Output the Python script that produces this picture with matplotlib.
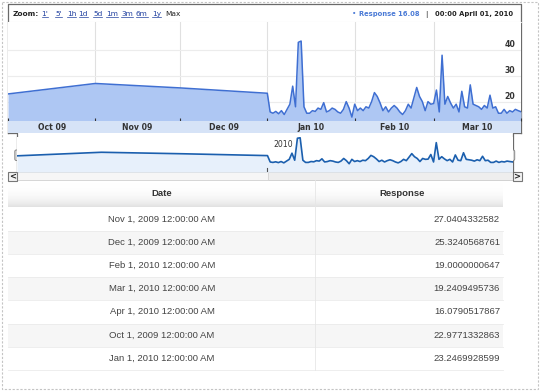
import numpy as np
import pandas as pd
import matplotlib
matplotlib.use("Agg")
import matplotlib.pyplot as plt
import matplotlib.dates as mdates
from matplotlib.patches import Rectangle, FancyBboxPatch
from matplotlib.colors import LinearSegmentedColormap

# ---------------- data ----------------
monthly_dates = ["2009-10-01", "2009-11-01", "2009-12-01", "2010-01-01"]
monthly_values = [22.9771332863, 27.0404332582, 25.3240568761, 23.2469928599]

daily_start = "2010-01-02"
daily_values = [
    16.0, 15.5, 16.2, 15.3, 16.5, 15.0, 17.0, 19.0, 26.0, 18.0,
    43.0, 43.5, 18.0, 15.5, 15.5, 16.5, 16.2, 17.5, 17.0, 19.6,
    16.0, 16.5, 17.5, 17.0, 16.0, 15.5, 17.0, 20.0, 17.5, 14.0,
    19.0000000647, 16.5, 17.5, 16.5, 18.0, 17.5, 20.0, 23.5, 22.0, 19.5,
    16.5, 18.0, 16.0, 17.5, 18.5, 17.5, 16.0, 15.0, 16.5, 19.0,
    17.5, 21.5, 25.5, 22.0, 20.0, 16.5, 20.0, 19.0, 19.2409495736, 24.5,
    16.0, 38.0, 19.0, 22.0, 19.5, 17.5, 19.0, 16.0, 24.0, 18.0,
    17.5, 26.5, 19.0, 18.5, 18.0, 17.0, 18.5, 17.5, 22.5, 17.5,
    18.0, 15.5, 15.5, 17.0, 15.5, 16.5, 16.0, 17.0, 16.5, 16.0790517867,
]

month_labels = ["Oct 09", "Nov 09", "Dec 09", "Jan 10", "Feb 10", "Mar 10"]
month_starts = ["2009-10-01", "2009-11-01", "2009-12-01", "2010-01-01",
                "2010-02-01", "2010-03-01", "2010-04-01"]
y_ticks = [20, 30, 40]

zoom_links = ["1'", "5'", "1h", "1d", "5d", "1m", "3m", "6m", "1y"]
legend_series = "Response"
legend_value = "16.08"
legend_date = "00:00 April 01, 2010"
nav_year_label = "2010"

table_header = ["Date", "Response"]
table_dates = ["Nov 1, 2009 12:00:00 AM", "Dec 1, 2009 12:00:00 AM",
               "Feb 1, 2010 12:00:00 AM", "Mar 1, 2010 12:00:00 AM",
               "Apr 1, 2010 12:00:00 AM", "Oct 1, 2009 12:00:00 AM",
               "Jan 1, 2010 12:00:00 AM"]
table_values = ["27.0404332582", "25.3240568761", "19.0000000647",
                "19.2409495736", "16.0790517867", "22.9771332863",
                "23.2469928599"]

# ---------------- build series ----------------
dates = list(pd.to_datetime(monthly_dates)) + list(
    pd.date_range(daily_start, periods=len(daily_values), freq="D"))
values = monthly_values + daily_values
x = mdates.date2num(dates)
xmin = mdates.date2num(pd.Timestamp(month_starts[0]))
xmax = mdates.date2num(pd.Timestamp(month_starts[-1]))

W, H = 540, 391
fig = plt.figure(figsize=(W / 100, H / 100), dpi=100)
fig.patch.set_facecolor("white")


def px_axes(x0, y0, x1, y1, **kw):
    return fig.add_axes([x0 / W, 1 - y1 / H, (x1 - x0) / W, (y1 - y0) / H], **kw)


bg = px_axes(0, 0, W, H)
bg.set_xlim(0, W)
bg.set_ylim(H, 0)
bg.axis("off")

# outer dashed border
bg.add_patch(Rectangle((1.5, 1.5), W - 3.5, H - 3.5, fill=False,
                       ec="#c4c4c4", lw=0.8, ls=(0, (2, 1.5))))

FR = "#6a6a6a"
bg.plot([8, 8, 521, 521], [133.3, 4, 4, 133.3], color=FR, lw=0.9)
bg.plot([8, 17, 17], [133.3, 133.3, 172], color=FR, lw=0.9)
bg.plot([521, 512.5, 512.5], [133.3, 133.3, 172], color=FR, lw=0.9)
bg.plot([8, 521], [21.7, 21.7], color="#dddddd", lw=0.8)

# zoom bar text
ZFS = 5.3
bg.text(12.5, 14, "Zoom:", fontsize=ZFS, fontweight="bold", color="#222222",
        va="center", ha="left")
link_x = [41.5, 55, 67, 78.5, 93, 106, 121, 136, 152]
link_texts = []
for lx, lab in zip(link_x, zoom_links):
    t = bg.text(lx, 14, lab, fontsize=ZFS, color="#1f3f9f", va="center", ha="left")
    link_texts.append(t)
bg.text(165, 14, "Max", fontsize=ZFS, color="#222222", va="center", ha="left")

bg.text(352, 13.6, "\u2022", fontsize=ZFS, color="#4a7ad6", va="center", ha="left")
bg.text(359, 14, f"{legend_series} {legend_value}", fontsize=4.9,
        fontweight="bold", color="#4a7ad6", va="center", ha="left")
bg.text(426.5, 14, "|", fontsize=5.3, color="#222222", va="center", ha="center")
bg.text(513, 14, legend_date, fontsize=4.9, fontweight="bold",
        color="#222222", va="center", ha="right")

# ---------------- main chart ----------------
YB, YT = 12.6, 51.0
ax = px_axes(8, 21.7, 521, 120.7)
ax.set_xlim(xmin, xmax)
ax.set_ylim(YB, YT)
ax.set_facecolor("white")
for s in ax.spines.values():
    s.set_visible(False)
ms = mdates.date2num(pd.to_datetime(month_starts))
for m in ms[1:-1]:
    ax.axvline(m, color="#e0e0e0", lw=0.8, zorder=0)
for v in y_ticks:
    ax.axhline(v, color="#ececec", lw=0.8, zorder=0)
ax.fill_between(x, values, YB, color="#aec7f3", lw=0, zorder=1)
ax.plot(x, values, color="#3f6fd2", lw=1.1, zorder=2)
ax.set_xticks(ms)
ax.set_xticklabels([])
ax.tick_params(axis="x", direction="in", length=2.5, width=0.8, color="#333333")
ax.set_yticks([])
for v in y_ticks:
    ax.annotate(str(v), xy=(0.978, v), xycoords=("axes fraction", "data"),
                xytext=(0, 4.0), textcoords="offset points", ha="center",
                va="center", fontsize=5.6, fontweight="bold", color="#333333")

# label band
band = px_axes(8, 120.7, 521, 133.3)
band.set_xlim(xmin, xmax)
band.set_ylim(0, 1)
band.set_facecolor("#d6e3f7")
for s in band.spines.values():
    s.set_visible(False)
band.set_xticks([])
band.set_yticks([])
for i, lab in enumerate(month_labels):
    mid = (ms[i] + ms[i + 1]) / 2
    band.text(mid, 0.5, lab, ha="center", va="center", fontsize=5.6,
              fontweight="bold", color="#333333")

# ---------------- navigator ----------------
NB, NT = 4.6, 44.4
nav = px_axes(17, 137, 512.5, 172)
nav.set_xlim(xmin, xmax)
nav.set_ylim(NB, NT)
for s in nav.spines.values():
    s.set_visible(False)
nav.set_xticks([])
nav.set_yticks([])
nav.fill_between(x, values, NB, color="#e7f0fb", lw=0)
nav.plot(x, values, color="#1b5fae", lw=1.2)
jan = mdates.date2num(pd.Timestamp("2010-01-01"))
nav.axvline(jan, ymin=0, ymax=0.12, color="#555555", lw=0.8)
nav.text(jan + 2, 36.0, nav_year_label, fontsize=5.6, color="#333333",
         ha="left", va="center")

for hx in (17, 512.5):
    bg.add_patch(FancyBboxPatch((hx - 2.2, 150), 4.4, 10.5,
                                boxstyle="round,pad=0,rounding_size=1.5",
                                fc="#d8d8d8", ec="#8a8a8a", lw=0.7, zorder=5))

# scrollbar
bg.add_patch(Rectangle((17, 172), 495.5, 7.5, fc="#eeeeee", ec="#cccccc", lw=0.6))
bg.add_patch(Rectangle((17, 172), 251, 7.5, fc="#f6f6f6", ec="#d4d4d4", lw=0.6))
bg.add_patch(Rectangle((8, 172), 9, 8.5, fc="#f3f3f3", ec="#777777", lw=0.8))
bg.add_patch(Rectangle((512.5, 172), 9, 8.5, fc="#f3f3f3", ec="#777777", lw=0.8))
bg.text(12.5, 176.5, "<", fontsize=6, fontweight="bold", ha="center", va="center",
        color="#222222")
bg.text(517, 176.5, ">", fontsize=6, fontweight="bold", ha="center", va="center",
        color="#222222")

# ---------------- table ----------------
TL, TR, TC = 8, 503, 315
HT, HB = 180, 207.5
TBOT = 370
row_h = (TBOT - HB) / len(table_dates)
grad = np.linspace(0, 1, 60) ** 3
cmap = LinearSegmentedColormap.from_list("hdr", ["#ffffff", "#e2e2e2"])
bg.imshow(grad[:, None], extent=[TL, TR, HB, HT], cmap=cmap, aspect="auto",
          origin="upper", zorder=0)
bg.set_xlim(0, W)
bg.set_ylim(H, 0)
tfont = ["Liberation Sans", "DejaVu Sans"]
bg.text(162, 193, table_header[0], fontsize=6.8, fontweight="bold",
        color="#333333", ha="center", va="center", family=tfont)
bg.text(402, 193, table_header[1], fontsize=6.8, fontweight="bold",
        color="#333333", ha="center", va="center", family=tfont)
for i, (d, v) in enumerate(zip(table_dates, table_values)):
    y0 = HB + i * row_h
    fc = "#ffffff" if i % 2 == 0 else "#f6f6f6"
    bg.add_patch(Rectangle((TL, y0), TR - TL, row_h, fc=fc, ec="none", zorder=0))
    bg.plot([TL, TR], [y0 + row_h, y0 + row_h], color="#ebebeb", lw=0.6)
    yc = y0 + row_h / 2
    bg.text(162, yc, d, fontsize=6.8, color="#444444", ha="center", va="center",
            family=tfont)
    bg.text(500, yc, v, fontsize=6.8, color="#444444", ha="right", va="center",
            family=tfont)
bg.plot([TC, TC], [HT, TBOT], color="#e6e6e6", lw=0.6)

fig.canvas.draw()
inv = bg.transData.inverted()
for t in link_texts:
    bb = t.get_window_extent()
    (a0, b0), (a1, b1) = inv.transform([[bb.x0, bb.y0], [bb.x1, bb.y1]])
    bg.plot([a0, a1], [b0 - 0.3, b0 - 0.3], color="#1f3f9f", lw=0.5)

fig.savefig("out.png", dpi=100, facecolor="white")
